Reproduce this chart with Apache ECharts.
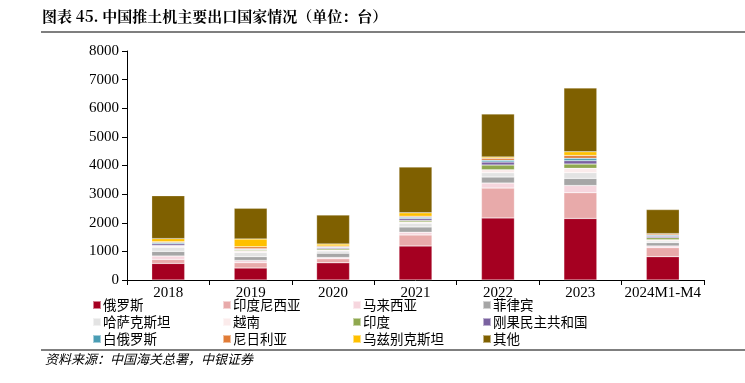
<!DOCTYPE html>
<html><head><meta charset="utf-8">
<script src="https://cdn.jsdelivr.net/npm/echarts@6/dist/echarts.min.js"></script>
<style>html,body{margin:0;padding:0;background:#fff}#c{width:745px;height:383px}</style>
</head><body><div id="c"></div>
<script>
const categories = ['2018','2019','2020','2021','2022','2023','2024M1-M4'];
const seriesNames = ['俄罗斯','印度尼西亚','马来西亚','菲律宾','哈萨克斯坦','越南','印度','刚果民主共和国','白俄罗斯','尼日利亚','乌兹别克斯坦','其他'];
const russia      = [580, 420, 600, 1190, 2170, 2150, 815];
const indonesia   = [140, 185, 140, 385, 1040, 900, 315];
const malaysia    = [115, 80, 45, 95, 175, 250, 60];
const philippines = [165, 130, 150, 185, 210, 250, 115];
const kazakhstan  = [140, 150, 80, 130, 150, 200, 60];
const vietnam     = [45, 50, 35, 45, 105, 150, 45];
const india       = [20, 30, 45, 45, 165, 150, 70];
const drCongo     = [60, 25, 35, 70, 105, 120, 45];
const belarus     = [45, 20, 20, 45, 60, 80, 35];
const nigeria     = [30, 70, 35, 40, 70, 100, 45];
const uzbekistan  = [105, 270, 70, 115, 45, 130, 15];
const others      = [1500, 1075, 1015, 1600, 1505, 2230, 840];
const yTicks = [0, 1000, 2000, 3000, 4000, 5000, 6000, 7000, 8000];

const values = [russia, indonesia, malaysia, philippines, kazakhstan, vietnam, india, drCongo, belarus, nigeria, uzbekistan, others];
const colors = ['#A50021','#E8AAAA','#F6D6DE','#A6A6A6','#E3E3E3','#FBEBEB','#8FA84F','#7A62A0','#4A9DB4','#E17C37','#FFC000','#7F6000'];

const serif = '"Liberation Serif","Times New Roman",serif';
const cjk = '"Noto Sans CJK SC",sans-serif';

const legendCols = [[0,4,8],[1,5,9],[2,6,10],[3,7,11]];
const legendLefts = [92, 222, 352, 482];

const chart = echarts.init(document.getElementById('c'), null, {renderer:'canvas'});
chart.setOption({
  animation: false,
  color: colors,
  grid: {left:127, right:41, top:51, bottom:103},
  legend: legendCols.map((col, i) => ({
    orient: 'vertical',
    left: legendLefts[i],
    top: 298,
    padding: 0,
    itemWidth: 8, itemHeight: 8, itemGap: 3,
    icon: 'rect',
    textStyle: {fontFamily: cjk, fontSize: 13.5, color: '#000', padding:[0,0,0,-3], lineHeight: 14},
    data: col.map(k => seriesNames[k])
  })),
  xAxis: {
    type: 'category',
    data: categories,
    axisLine: {lineStyle:{color:'#000', width:1}},
    axisTick: {show:true, length:5, lineStyle:{color:'#000'}},
    axisLabel: {interval: 0, color:'#000', fontFamily: serif, fontSize: 15, margin: 6}
  },
  yAxis: {
    type: 'value',
    min: yTicks[0], max: yTicks[yTicks.length-1], interval: 1000,
    axisLine: {show:true, lineStyle:{color:'#000', width:1}},
    axisTick: {show:true, length:5, lineStyle:{color:'#000'}},
    splitLine: {show:false},
    axisLabel: {color:'#000', fontFamily: serif, fontSize: 15, margin: 8, formatter: v => String(v)}
  },
  series: seriesNames.map((n, i) => ({
    name: n, type: 'bar', stack: 'total', barWidth: '40%',
    itemStyle: {color: colors[i], borderColor: 'rgba(255,255,255,0.5)', borderWidth: 0.5},
    data: values[i]
  })),
  graphic: [
    {type:'text', left: 42, top: 9, style:{text:'图表 45. 中国推土机主要出口国家情况（单位：台）', font:'bold 15px "Noto Serif CJK SC","Noto Sans CJK SC",sans-serif', fill:'#000'}},
    {type:'line', shape:{x1:41, y1:32, x2:745, y2:32}, style:{stroke:'#555', lineWidth:1.5}},
    {type:'line', shape:{x1:41, y1:350, x2:745, y2:350}, style:{stroke:'#555', lineWidth:1.5}},
    {type:'text', left: 45, top: 353, style:{text:'资料来源：中国海关总署，中银证券', font:'italic 13px "Noto Sans CJK SC",sans-serif', fill:'#000'}}
  ]
});
</script></body></html>
